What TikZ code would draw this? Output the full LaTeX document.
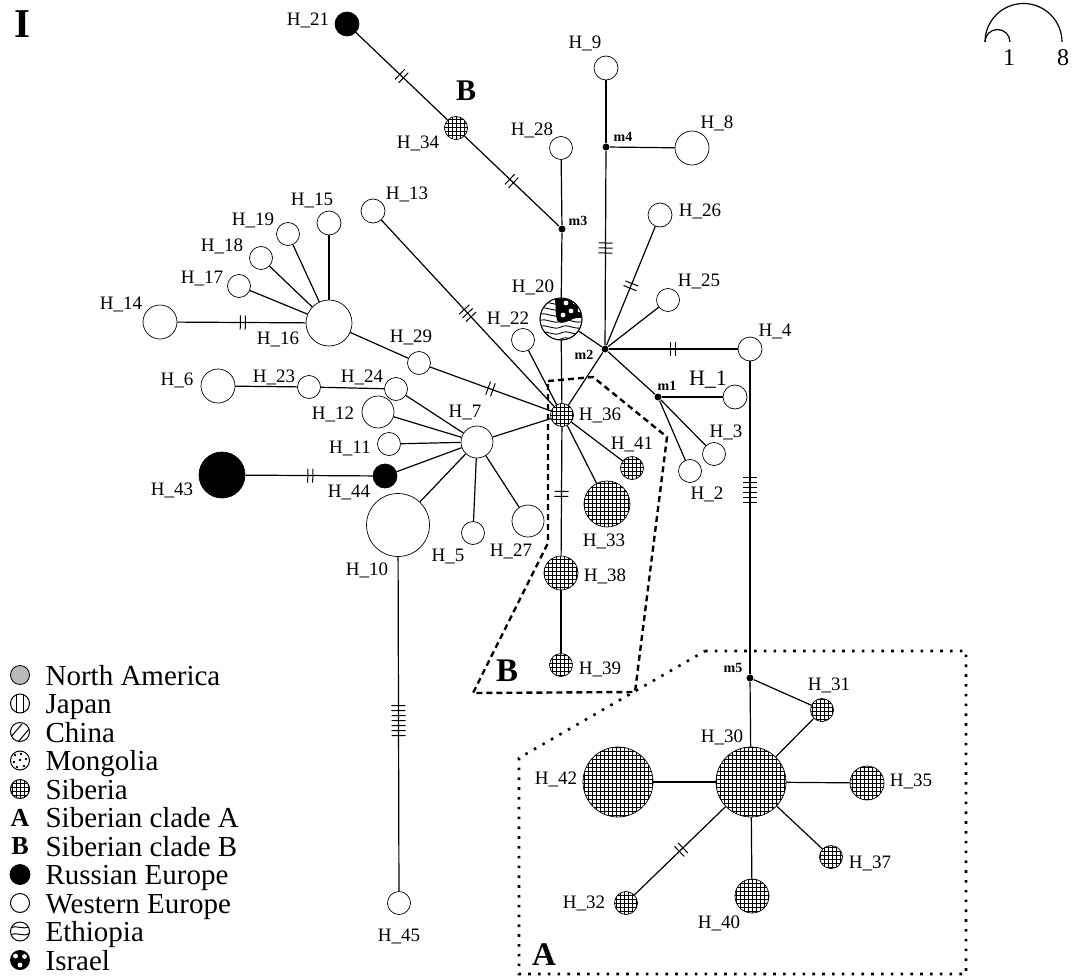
\documentclass[tikz,border=0pt]{standalone}
\usepackage{fontspec}
\setmainfont{Liberation Serif}
\usetikzlibrary{patterns,decorations.markings}
\pgfdeclarepatternformonly{sibgrid}{\pgfqpoint{-1pt}{-1pt}}{\pgfqpoint{5pt}{5pt}}{\pgfqpoint{4pt}{4pt}}{%
  \pgfsetlinewidth{0.5pt}%
  \pgfpathmoveto{\pgfqpoint{0pt}{-0.5pt}}\pgfpathlineto{\pgfqpoint{0pt}{4.5pt}}%
  \pgfpathmoveto{\pgfqpoint{-0.5pt}{0pt}}\pgfpathlineto{\pgfqpoint{4.5pt}{0pt}}%
  \pgfusepath{stroke}}
\newcommand\lblfont{\fontsize{19}{19}\selectfont}
\newcommand\mlfont{\fontsize{14}{14}\selectfont\bfseries}
\newcommand\legfont{\fontsize{29}{29}\selectfont}
\begin{document}
\begin{tikzpicture}[x=1pt,y=-1pt,line width=1.2pt,
  wn/.style={circle,draw,line width=0.7pt,inner sep=0pt,fill=white,minimum size=#1},
  bn/.style={circle,draw,line width=0.7pt,inner sep=0pt,fill=black,minimum size=#1},
  sn/.style={circle,draw,line width=0.7pt,inner sep=0pt,preaction={fill=white},pattern=sibgrid,minimum size=#1},
  mv/.style={circle,fill=black,inner sep=0pt,minimum size=7pt},
  lbl/.style={font=\lblfont,inner sep=0pt,anchor=base},
  mlb/.style={font=\mlfont,inner sep=0pt,anchor=base},
  leg/.style={font=\legfont,inner sep=0pt,anchor=base west},
  clab/.style={font=\fontsize{#1}{#1}\selectfont\bfseries,inner sep=0pt,anchor=base},
  tk/.style 2 args={postaction={decorate,decoration={markings,mark=at position #2 with {\foreach \k in {1,...,#1}{\draw[line width=1pt] ({(\k-(#1+1)/2)*5pt},-7pt) -- ({(\k-(#1+1)/2)*5pt},7pt);}}}}}
]
\useasboundingbox (0,0) rectangle (1087,979);

% ---------- haplotype nodes ----------
\node[bn=24pt] (h21) at (347,24) {};
\node[sn=23pt] (h34) at (456,128) {};
\node[wn=23pt] (h28) at (561,148) {};
\node[mv] (m3) at (562,229) {};
\node[wn=42pt] (h20) at (561,319) {};
\node[wn=24pt] (h9) at (606,68) {};
\node[mv] (m4) at (606,147) {};
\node[wn=34pt] (h8) at (692,148) {};
\node[wn=24pt] (h26) at (660,215) {};
\node[wn=23pt] (h25) at (668,300) {};
\node[mv] (m2) at (605,349) {};
\node[wn=24pt] (h4) at (750,349) {};
\node[mv] (m1) at (658,397) {};
\node[wn=24pt] (h1) at (735,397) {};
\node[wn=23pt] (h3) at (714,454) {};
\node[wn=23pt] (h2) at (690,471) {};
\node[wn=23pt] (h22) at (523,340) {};
\node[sn=23pt] (h36) at (562,415) {};
\node[sn=23pt] (h41) at (632,468) {};
\node[sn=46pt] (h33) at (607,504) {};
\node[sn=34pt] (h38) at (561,573) {};
\node[sn=23pt] (h39) at (561,665) {};
\node[mv] (m5) at (750,678) {};
\node[sn=23pt] (h31) at (822,710) {};
\node[sn=70pt] (h30) at (751,782) {};
\node[sn=70pt] (h42) at (618,782) {};
\node[sn=34pt] (h35) at (867,783) {};
\node[sn=23pt] (h37) at (831,857) {};
\node[sn=34pt] (h40) at (752,896) {};
\node[sn=23pt] (h32) at (626,903) {};
\node[wn=24pt] (h13) at (373,211) {};
\node[wn=24pt] (h15) at (329,223) {};
\node[wn=23pt] (h19) at (288,234) {};
\node[wn=23pt] (h18) at (261,258) {};
\node[wn=23pt] (h17) at (239,286) {};
\node[wn=34pt] (h14) at (160,322) {};
\node[wn=46pt] (h16) at (329,323) {};
\node[wn=23pt] (h29) at (419,363) {};
\node[wn=34pt] (h6) at (218,386) {};
\node[wn=23pt] (h23) at (309,387) {};
\node[wn=23pt] (h24) at (396,389) {};
\node[wn=32pt] (h12) at (378,412) {};
\node[wn=23pt] (h11) at (389,444) {};
\node[wn=32pt] (h7) at (477,442) {};
\node[bn=46pt] (h43) at (222,475) {};
\node[bn=24pt] (h44) at (385,476) {};
\node[wn=63pt] (h10) at (398,525) {};
\node[wn=23pt] (h5) at (473,533) {};
\node[wn=32pt] (h27) at (528,521) {};
\node[wn=23pt] (h45) at (399,903) {};

% ---------- H_20 pattern (Ethiopia / Israel) ----------
\begin{scope}
  \clip (561,319) circle (20.6pt);
  \foreach \dy in {-16,-10,-4,2,8,14,20}{
    \draw[line width=0.9pt] (539,{319+\dy}) .. controls (546,{315+\dy}) and (553,{323+\dy}) .. (561,{319+\dy}) .. controls (568,{315+\dy}) and (575,{323+\dy}) .. (584,{319+\dy});
  }
  \fill[black] (554,296) .. controls (557,305) and (554,314) .. (558,322) .. controls (566,326) and (574,314) .. (584,319) -- (584,296) -- cycle;
  \foreach \px/\py in {566/303,575/302,571/311,580/310,563/315}{
    \fill[white] (\px,\py) circle (2.4pt);
  }
\end{scope}
\draw[line width=0.9pt] (561,319) circle (21pt);

% ---------- connectors ----------
\draw[tk={2}{0.5}] (h21) -- (h34);
\draw[tk={2}{0.5}] (h34) -- (m3);
\draw (h28) -- (m3);
\draw (m3) -- (h20);
\draw (h20) -- (m2);
\draw (h9) -- (m4);
\draw (m4) -- (h8);
\draw[tk={3}{0.5}] (m4) -- (m2);
\draw[tk={2}{0.5}] (m2) -- (h26);
\draw (m2) -- (h25);
\draw[tk={2}{0.5}] (m2) -- (h4);
\draw (m2) -- (m1);
\draw (m1) -- (h1);
\draw (m1) -- (h3);
\draw (m1) -- (h2);
\draw (m2) -- (h36);
\draw (h20) -- (h36);
\draw (h22) -- (h36);
\draw[tk={3}{0.5}] (h13) -- (h36);
\draw[tk={2}{0.5}] (h29) -- (h36);
\draw (h16) -- (h29);
\draw (h7) -- (h36);
\draw (h36) -- (h41);
\draw (h36) -- (h33);
\draw[tk={2}{0.52}] (h36) -- (h38);
\draw (h38) -- (h39);
\draw[tk={6}{0.41}] (h4) -- (m5);
\draw (m5) -- (h30);
\draw (m5) -- (h31);
\draw (h31) -- (h30);
\draw (h30) -- (h42);
\draw (h30) -- (h35);
\draw (h30) -- (h37);
\draw (h30) -- (h40);
\draw[tk={2}{0.49}] (h30) -- (h32);
\draw[tk={2}{0.51}] (h14) -- (h16);
\draw (h17) -- (h16);
\draw (h18) -- (h16);
\draw (h19) -- (h16);
\draw (h15) -- (h16);
\draw (h6) -- (h23);
\draw (h23) -- (h24);
\draw (h24) -- (h7);
\draw (h12) -- (h7);
\draw (h11) -- (h7);
\draw (h44) -- (h7);
\draw[tk={2}{0.51}] (h43) -- (h44);
\draw (h10) -- (h7);
\draw (h5) -- (h7);
\draw (h27) -- (h7);
\draw[tk={7}{0.49}] (h10) -- (h45);

% ---------- labels ----------
\node[lbl] (l21) at (308,26) {H\_21};
\node[lbl] (l34) at (418,149) {H\_34};
\node[lbl] (l28) at (532,136) {H\_28};
\node[lbl] (l20) at (533,292) {H\_20};
\node[lbl] (l9) at (585,49) {H\_9};
\node[lbl] (l8) at (717,129) {H\_8};
\node[lbl] (l26) at (700,216) {H\_26};
\node[lbl] (l25) at (699,286) {H\_25};
\node[lbl] (l4) at (775,336) {H\_4};
\node[lbl,font=\fontsize{22}{22}\selectfont] (l1) at (708,385) {H\_1};
\node[lbl] (l3) at (726,437) {H\_3};
\node[lbl] (l2) at (707,499) {H\_2};
\node[lbl] (l22) at (508,324) {H\_22};
\node[lbl] (l36) at (600,420) {H\_36};
\node[lbl] (l41) at (632,449) {H\_41};
\node[lbl] (l33) at (604,546) {H\_33};
\node[lbl] (l38) at (605,581) {H\_38};
\node[lbl] (l39) at (600,674) {H\_39};
\node[lbl] (l31) at (829,690) {H\_31};
\node[lbl] (l30) at (722,742) {H\_30};
\node[lbl] (l42) at (556,784) {H\_42};
\node[lbl] (l35) at (911,786) {H\_35};
\node[lbl] (l37) at (870,868) {H\_37};
\node[lbl] (l40) at (719,928) {H\_40};
\node[lbl] (l32) at (584,908) {H\_32};
\node[lbl] (l13) at (407,199) {H\_13};
\node[lbl] (l15) at (312,205) {H\_15};
\node[lbl] (l19) at (253,225) {H\_19};
\node[lbl] (l18) at (222,251) {H\_18};
\node[lbl] (l17) at (202,283) {H\_17};
\node[lbl] (l14) at (121,309) {H\_14};
\node[lbl] (l16) at (278,344) {H\_16};
\node[lbl] (l29) at (411,342) {H\_29};
\node[lbl] (l6) at (177,385) {H\_6};
\node[lbl] (l23) at (274,382) {H\_23};
\node[lbl] (l24) at (362,382) {H\_24};
\node[lbl] (l12) at (333,419) {H\_12};
\node[lbl] (l11) at (350,453) {H\_11};
\node[lbl] (l7) at (465,417) {H\_7};
\node[lbl] (l43) at (172,495) {H\_43};
\node[lbl] (l44) at (349,497) {H\_44};
\node[lbl] (l10) at (367,575) {H\_10};
\node[lbl] (l5) at (448,561) {H\_5};
\node[lbl] (l27) at (511,556) {H\_27};
\node[lbl] (l45) at (399,941) {H\_45};

\node[mlb] (lm1) at (667,390) {m1};
\node[mlb] (lm2) at (584,359) {m2};
\node[mlb] (lm3) at (578,225) {m3};
\node[mlb] (lm4) at (623,142) {m4};
\node[mlb] (lm5) at (733,672) {m5};

\node[clab=30] (bB1) at (466,101) {B};
\node[clab=33] (bB2) at (507,681) {B};
\node[clab=33] (bA) at (544,965) {A};
\node[clab=41] (bI) at (22,38) {I};

% ---------- clade outlines ----------
\draw[line width=2.4pt,dash pattern=on 6pt off 4pt] (548,381) -- (593,377) -- (667,437) -- (635,692) -- (473,693) -- (548,543) -- cycle;
\draw[line width=2.6pt,dash pattern=on 2.6pt off 7.2pt] (705,651) -- (966,651) -- (966,974) -- (519,974) -- (519,758) -- cycle;

% ---------- scale ----------
\draw[line width=1.2pt] (985,42) arc[start angle=180,end angle=0,radius=12.5pt];
\draw[line width=1.2pt] (985,42) arc[start angle=180,end angle=0,radius=38.5pt];
\node[lbl,font=\fontsize{24}{24}\selectfont] (s1) at (1009,66) {1};
\node[lbl,font=\fontsize{24}{24}\selectfont] (s8) at (1063,66) {8};

% ---------- legend ----------
\node[leg] (t1) at (45,685) {North America};
\node[leg] (t2) at (45,713.5) {Japan};
\node[leg] (t3) at (45,742) {China};
\node[leg] (t4) at (45,770.5) {Mongolia};
\node[leg] (t5) at (45,799) {Siberia};
\node[leg] (t6) at (45,827.5) {Siberian clade A};
\node[leg] (t7) at (45,856) {Siberian clade B};
\node[leg] (t8) at (45,884.5) {Russian Europe};
\node[leg] (t9) at (45,913) {Western Europe};
\node[leg] (t10) at (45,941.5) {Ethiopia};
\node[leg] (t11) at (45,970) {Israel};

\draw[line width=0.8pt,fill=gray!55] (20,675) circle (9.5pt);
% Japan
\begin{scope}
  \clip (20,703.5) circle (9.5pt);
  \draw[line width=1pt] (16.5,693) -- (16.5,714) (23.5,693) -- (23.5,714);
\end{scope}
\draw[line width=1pt] (20,703.5) circle (9.5pt);
% China
\begin{scope}
  \clip (20,732) circle (9.5pt);
  \draw[line width=1pt] (10,738) -- (22,724) (18,742) -- (30,728);
\end{scope}
\draw[line width=1pt] (20,732) circle (9.5pt);
% Mongolia
\draw[line width=1pt] (20,760.5) circle (9.5pt);
\foreach \px/\py in {15/755,21/754,26/759,14/762,20/760,17/767,24/766}{\fill (\px,\py) circle (1.4pt);}
% Siberia
\draw[line width=1pt,preaction={fill=white},pattern=sibgrid] (20,789) circle (9.5pt);
\node[clab=26] (lgA) at (20,826) {A};
\node[clab=26] (lgB) at (20,854.5) {B};
\draw[line width=0.8pt,fill=black] (20,874.5) circle (10pt);
\draw[line width=1pt] (20,903) circle (9.5pt);
% Ethiopia
\begin{scope}
  \clip (20,931.5) circle (9.5pt);
  \draw[line width=1pt] (10,928) .. controls (16,924) and (23,931) .. (30,926) (10,935) .. controls (16,931) and (23,938) .. (30,933);
\end{scope}
\draw[line width=1pt] (20,931.5) circle (9.5pt);
% Israel
\fill[black] (20,960) circle (10pt);
\foreach \px/\py in {15.5/956,24.5/956.5,20/965}{\fill[white] (\px,\py) circle (2.4pt);}
\end{tikzpicture}
\end{document}
